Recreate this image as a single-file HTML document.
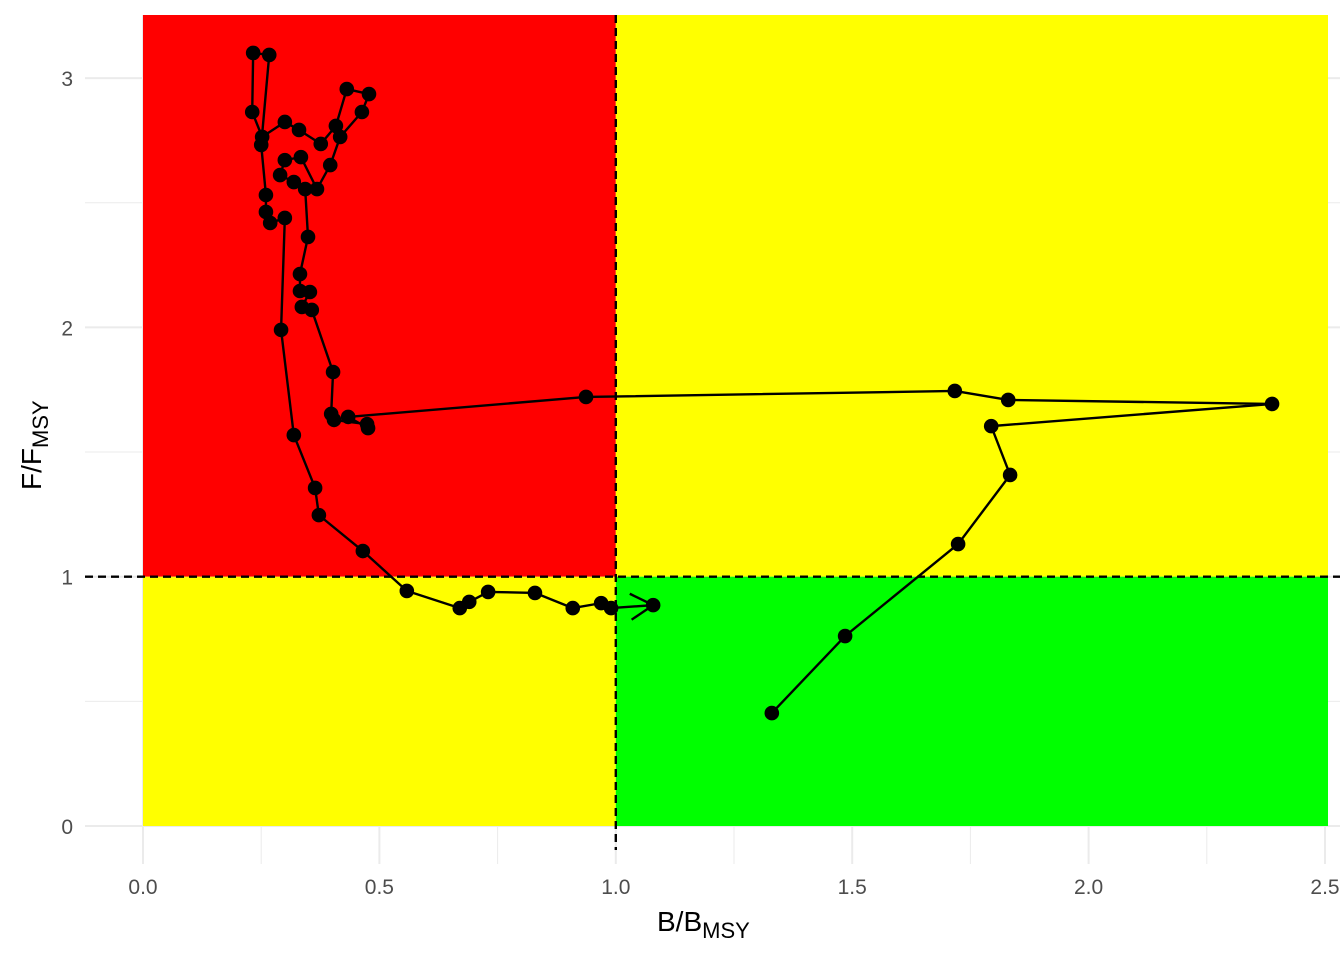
<!DOCTYPE html>
<html><head><meta charset="utf-8"><style>
body{margin:0;background:#fff;}
svg text{font-family:"Liberation Sans",Arial,sans-serif;}
</style></head><body>
<svg id="chart" width="1344" height="960" xmlns="http://www.w3.org/2000/svg"></svg>
<script>
const bVals=[1.330,1.485,1.724,1.834,1.794,2.388,1.830,1.717,0.937,0.434,0.476,0.474,0.404,0.398,0.402,0.357,0.336,0.353,0.332,0.332,0.349,0.343,0.319,0.290,0.300,0.334,0.368,0.396,0.417,0.463,0.478,0.431,0.408,0.376,0.330,0.300,0.252,0.231,0.233,0.267,0.250,0.260,0.260,0.269,0.300,0.292,0.319,0.364,0.372,0.465,0.558,0.670,0.690,0.730,0.829,0.909,0.969,0.990,1.079];
const fVals=[0.453,0.762,1.131,1.408,1.604,1.693,1.709,1.745,1.721,1.641,1.596,1.612,1.629,1.653,1.821,2.070,2.082,2.142,2.146,2.214,2.363,2.555,2.583,2.611,2.671,2.683,2.555,2.651,2.764,2.864,2.936,2.956,2.808,2.736,2.792,2.824,2.764,2.864,3.101,3.093,2.732,2.531,2.463,2.419,2.439,1.990,1.568,1.356,1.247,1.103,0.943,0.874,0.899,0.939,0.935,0.874,0.894,0.874,0.886];
const xTicks=[0,0.5,1,1.5,2,2.5];
const xTickLabels=["0.0","0.5","1.0","1.5","2.0","2.5"];
const yTicks=[0,1,2,3];
const yTickLabels=["0","1","2","3"];
const xMinor=[0.25,0.75,1.25,1.75,2.25];
const yMinor=[0.5,1.5,2.5];

const NS="http://www.w3.org/2000/svg";
const svg=document.getElementById('chart');
const X=v=>143+v*472.8, Y=v=>826-v*249.3;
const L=85,R=1340,T=15,B=864;
function mk(t,a,p){const e=document.createElementNS(NS,t);for(const k in a)e.setAttribute(k,a[k]);(p||svg).appendChild(e);return e;}
xMinor.forEach(v=>{const e=mk('line',{x1:X(v),x2:X(v),y1:T,y2:B,stroke:'#ebebeb','stroke-width':1});

});
yMinor.forEach(v=>{const e=mk('line',{x1:L,x2:R,y1:Y(v),y2:Y(v),stroke:'#ebebeb','stroke-width':1});

});
xTicks.forEach(v=>{const e=mk('line',{x1:X(v),x2:X(v),y1:T,y2:B,stroke:'#ebebeb','stroke-width':2});

});
yTicks.forEach(v=>{const e=mk('line',{x1:L,x2:R,y1:Y(v),y2:Y(v),stroke:'#ebebeb','stroke-width':2});

});
const xr=1328;
[['red-zone',X(0),T,X(1),Y(1),'#ff0000'],['yellow-zone-top-right',X(1),T,xr,Y(1),'#ffff00'],
 ['yellow-zone-bottom-left',X(0),Y(1),X(1),Y(0),'#ffff00'],['green-zone',X(1),Y(1),xr,Y(0),'#00ff00']].forEach(z=>{
 const e=mk('rect',{x:z[1],y:z[2],width:z[3]-z[1],height:z[4]-z[2],fill:z[5]});
 
 });
let e=mk('line',{x1:X(1),x2:X(1),y1:T,y2:850,stroke:'#000','stroke-width':2.4,'stroke-dasharray':'8,5'});


e=mk('line',{x1:L,x2:R,y1:Y(1),y2:Y(1),stroke:'#000','stroke-width':2.4,'stroke-dasharray':'8,5'});


const pts=bVals.map((b,i)=>X(b)+','+Y(fVals[i])).join(' ');
e=mk('polyline',{points:pts,fill:'none',stroke:'#000','stroke-width':2.4,'stroke-linejoin':'round'});


const n=bVals.length;
const tx=X(bVals[n-1]),ty=Y(fVals[n-1]),px=X(bVals[n-2]),py=Y(fVals[n-2]);
const ang=Math.atan2(ty-py,tx-px),len=26;
[Math.PI/6,-Math.PI/6].forEach(d=>{
 const a=ang+Math.PI+d;
 const w=mk('line',{x1:tx,y1:ty,x2:tx+len*Math.cos(a),y2:ty+len*Math.sin(a),stroke:'#000','stroke-width':2.4});
 
 });
bVals.forEach((b,i)=>{const c=mk('circle',{cx:X(b),cy:Y(fVals[i]),r:7.3,fill:'#000'});

});
xTicks.forEach((v,i)=>{const t=mk('text',{x:X(v),y:894,'text-anchor':'middle','font-size':21,fill:'#4d4d4d'});t.textContent=xTickLabels[i];

});
yTicks.forEach((v,i)=>{const t=mk('text',{x:73,y:Y(v)+8,'text-anchor':'end','font-size':21,fill:'#4d4d4d'});t.textContent=yTickLabels[i];

});
</script>
<svg width="1344" height="960" style="position:absolute;left:0;top:0" xmlns="http://www.w3.org/2000/svg">
<text x="657" y="931" font-size="28" fill="#000" font-family="Liberation Sans, sans-serif">B/B<tspan font-size="22" dy="7">MSY</tspan></text>
<text transform="translate(41,490) rotate(-90)" font-size="28" fill="#000" font-family="Liberation Sans, sans-serif">F/F<tspan font-size="22" dy="7">MSY</tspan></text>
</svg>
</body></html>
